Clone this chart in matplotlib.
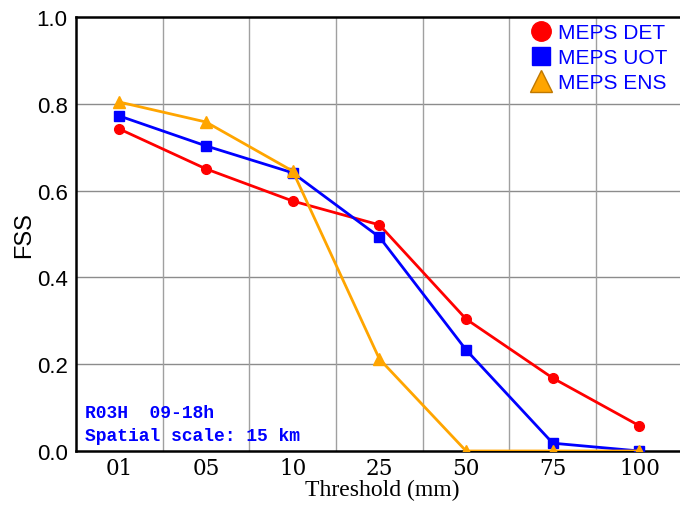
import matplotlib
matplotlib.use("Agg")
import matplotlib.pyplot as plt
import numpy as np
from matplotlib.lines import Line2D

# data
thresholds = ["01", "05", "10", "25", "50", "75", "100"]
fss_det = [0.742, 0.650, 0.576, 0.521, 0.304, 0.168, 0.058]
fss_uot = [0.772, 0.703, 0.641, 0.493, 0.233, 0.018, 0.0]
fss_ens = [0.804, 0.758, 0.645, 0.212, 0.0, 0.0, 0.0]

x = np.arange(len(thresholds))

fig = plt.figure(figsize=(6.8, 5.06), dpi=100)
ax = fig.add_axes([76/680, 1 - 452/506, 612/680, 434/506])

# grid: horizontal at ticks, vertical between categories
for yv in [0.2, 0.4, 0.6, 0.8]:
  ax.axhline(yv, color='#8c8c8c', lw=1.0, zorder=0)
for xv in np.arange(0.5, len(thresholds), 1.0):
  ax.axvline(xv, color='#a0a0a0', lw=1.0, zorder=0)

ax.plot(x, fss_det, color='#ff0000', lw=2, marker='o', ms=7, label='MEPS DET', zorder=3)
ax.plot(x, fss_uot, color='#0000ff', lw=2, marker='s', ms=6.5, label='MEPS UOT', zorder=4)
ax.plot(x, fss_ens, color='#ffa500', lw=2, marker='^', ms=8, label='MEPS ENS', zorder=5)

ax.set_xlim(-0.5, 6.56)
ax.set_ylim(0, 1.0)
ax.set_xticks(x)
ax.set_xticklabels(thresholds, family='DejaVu Serif', fontsize=15.5)
ax.set_yticks([0.0, 0.2, 0.4, 0.6, 0.8, 1.0])
ax.set_yticklabels(['0.0', '0.2', '0.4', '0.6', '0.8', '1.0'], family='Liberation Sans', fontsize=16)
ax.tick_params(axis='y', length=0, pad=6)
ax.tick_params(axis='x', length=0, pad=4)

ax.set_xlabel('Threshold (mm)', family='Liberation Serif', fontsize=17, labelpad=0)
ax.set_ylabel('FSS', family='Liberation Sans', fontsize=17, labelpad=1)

for side in ['left', 'bottom', 'top']:
  ax.spines[side].set_linewidth(1.8)
ax.spines['right'].set_visible(False)

# legend with marker-only handles
handles = [
  Line2D([], [], ls='none', marker='o', ms=14, color='#ff0000'),
  Line2D([], [], ls='none', marker='s', ms=13, color='#0000ff'),
  Line2D([], [], ls='none', marker='^', ms=16, markerfacecolor='#ffa500', markeredgecolor='#c07800'),
]
leg = ax.legend(handles, ['MEPS DET', 'MEPS UOT', 'MEPS ENS'], loc='upper right',
                bbox_to_anchor=(0.99, 1.02), frameon=False, handlelength=1.0,
                handletextpad=0.3, labelspacing=0.3, borderaxespad=0.3,
                prop={'family': 'Liberation Sans', 'size': 15})
for t in leg.get_texts():
  t.set_color('#0000ff')

ax.text(0.015, 0.078, 'R03H  09-18h', transform=ax.transAxes, family='Liberation Mono',
        weight='bold', fontsize=13, color='#0000ff')
ax.text(0.015, 0.025, 'Spatial scale: 15 km', transform=ax.transAxes, family='Liberation Mono',
        weight='bold', fontsize=13, color='#0000ff')

fig.savefig('out.png', dpi=100)
